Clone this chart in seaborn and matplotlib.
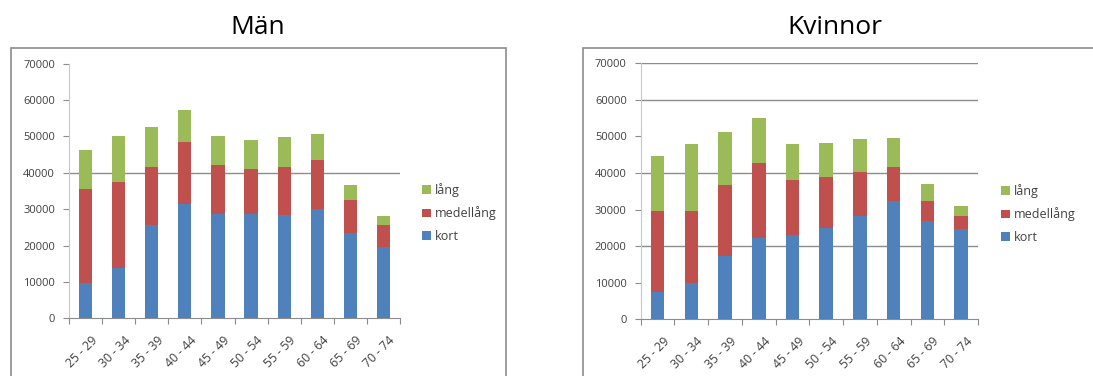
import matplotlib
matplotlib.use("Agg")
import matplotlib.pyplot as plt
from matplotlib.patches import Rectangle
import seaborn as sns
import pandas as pd
import numpy as np

# Age groups and the three duration groups (kort / medellång / lång)
age_groups = ["25 - 29", "30 - 34", "35 - 39", "40 - 44", "45 - 49",
              "50 - 54", "55 - 59", "60 - 64", "65 - 69", "70 - 74"]
series_names = ["lång", "medellång", "kort"]

man_kort = [9600, 13900, 25500, 31500, 28700, 28700, 28300, 30000, 23300, 19500]
man_medellang = [26000, 23500, 16200, 16800, 13300, 12200, 13300, 13400, 9200, 6000]
man_lang = [10500, 12700, 10800, 8900, 8100, 8100, 8100, 7300, 4100, 2700]

kvinnor_kort = [7600, 9900, 17400, 22300, 23000, 25100, 28300, 32400, 26800, 24700]
kvinnor_medellang = [22000, 19700, 19300, 20400, 15100, 13700, 11900, 9300, 5600, 3600]
kvinnor_lang = [15100, 18200, 14400, 12300, 9800, 9400, 9100, 8000, 4600, 2700]

colors = {"kort": "#4F81BD", "medellång": "#C0504D", "lång": "#9BBB59"}

plt.rcParams["font.family"] = ["Open Sans", "DejaVu Sans"]

fig = plt.figure(figsize=(10.93, 3.76), dpi=100)


def draw_panel(rect, title, title_x, kort, medel, lang, grid_levels, legend_xy):
    ax = fig.add_axes(rect)
    df = pd.DataFrame({
        "age": age_groups,
        "kort": kort,
        "medellång": medel,
        "lång": lang,
    })
    df["top_medel"] = df["kort"] + df["medellång"]
    df["top_lang"] = df["top_medel"] + df["lång"]

    # stacked bars drawn as overlapping cumulative totals
    sns.barplot(data=df, x="age", y="top_lang", color=colors["lång"],
                width=0.4, saturation=1, ax=ax, label="lång", zorder=3)
    sns.barplot(data=df, x="age", y="top_medel", color=colors["medellång"],
                width=0.4, saturation=1, ax=ax, label="medellång", zorder=3)
    sns.barplot(data=df, x="age", y="kort", color=colors["kort"],
                width=0.4, saturation=1, ax=ax, label="kort", zorder=3)

    n = len(age_groups)
    ax.set_ylim(0, 70000)
    ax.set_xlim(-0.5, n - 0.5)
    ax.set_yticks(np.arange(0, 70001, 10000))
    ax.set_yticklabels([str(v) for v in range(0, 70001, 10000)],
                       fontsize=8, color="#404040")
    # rotated labels sit slightly right of the category centre
    ax.set_xticks(np.arange(n) + 0.15)
    ax.set_xticklabels(age_groups, rotation=45, ha="right",
                       rotation_mode="anchor", fontsize=8.8, color="#404040")
    ax.set_xticks(np.arange(-0.5, n), minor=True)
    ax.tick_params(axis="x", which="major", length=0, pad=11)
    ax.tick_params(axis="x", which="minor", length=4, color="#8c8c8c", width=0.8)
    ax.tick_params(axis="y", length=4, color="#8c8c8c", width=0.8, pad=6)
    ax.set_xlabel("")
    ax.set_ylabel("")

    for lvl in grid_levels:
        ax.axhline(lvl, color="#8c8c8c", lw=1.0, zorder=1)

    for side in ["top", "right"]:
        ax.spines[side].set_visible(False)
    ax.spines["left"].set_color("#c8c8c8")
    ax.spines["bottom"].set_color("#8c8c8c")
    ax.spines["bottom"].set_zorder(4)

    handles, labels = ax.get_legend_handles_labels()
    ax.legend(handles, labels, loc="center left",
              bbox_to_anchor=legend_xy, bbox_transform=fig.transFigure,
              frameon=False, fontsize=9, handlelength=0.7, handleheight=0.7,
              handletextpad=0.3, labelspacing=0.75, labelcolor="#404040")

    fig.text(title_x, 1 - 28 / 376, title, ha="center", va="center",
             fontsize=19, color="black")
    return ax


# left panel: Män
draw_panel([69 / 1093, 1 - 318.3 / 376, 331 / 1093, 254.8 / 376],
           "Män", 258 / 1093, man_kort, man_medellang, man_lang,
           [40000], (411 / 1093, 1 - 213 / 376))

# right panel: Kvinnor
draw_panel([640.7 / 1093, 1 - 319.3 / 376, 337.3 / 1093, 256 / 376],
           "Kvinnor", 835 / 1093, kvinnor_kort, kvinnor_medellang, kvinnor_lang,
           [20000, 40000, 60000, 70000], (990 / 1093, 1 - 214 / 376))

# chart-area frames
fig.patches.append(Rectangle((11 / 1093, -0.05), (506 - 11) / 1093, 1.05 - 47.7 / 376,
                             transform=fig.transFigure, fill=False,
                             edgecolor="#8c8c8c", lw=1.2))
fig.patches.append(Rectangle((583.3 / 1093, -0.05), 0.5, 1.05 - 47.7 / 376,
                             transform=fig.transFigure, fill=False,
                             edgecolor="#8c8c8c", lw=1.2))

fig.savefig("out.png", dpi=100)
